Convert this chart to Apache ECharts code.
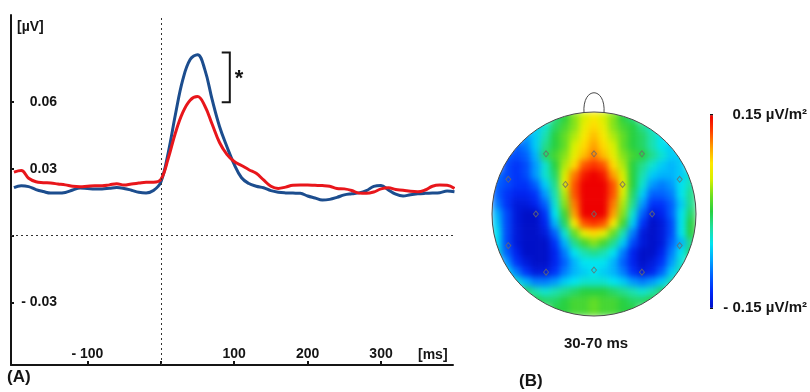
<!DOCTYPE html>
<html>
<head>
<meta charset="utf-8">
<script src="https://cdn.jsdelivr.net/npm/echarts@6/dist/echarts.min.js"></script>
<style>
html, body { margin: 0; padding: 0; background: #fff; }
#wrap { position: relative; width: 810px; height: 392px; }
#topo, #chart { position: absolute; left: 0; top: 0; width: 810px; height: 392px; }
/* soften the electrode grid so it reads like an interpolated scalp map */
#topo { filter: blur(3px); }
</style>
</head>
<body>
<div id="wrap">
  <div id="topo"></div>
  <div id="chart"></div>
</div>
<script>
// (A) ERP waveforms, time in ms, amplitude in µV
const timesMs = [-200, -190, -180, -170, -160, -150, -140, -130, -120, -110, -100, -90, -80, -70, -60, -50, -40, -30, -20, -10,
  0, 10, 20, 30, 40, 50, 60, 70, 80, 90, 100, 110, 120, 130, 140, 150, 160, 170, 180, 190,
  200, 210, 220, 230, 240, 250, 260, 270, 280, 290, 300, 310, 320, 330, 340, 350, 360, 370, 380, 390, 400]
const blueWave = [0.0216, 0.0224, 0.0220, 0.0207, 0.0198, 0.0191, 0.0191, 0.0194, 0.0205, 0.0214, 0.0212, 0.0210, 0.0210, 0.0213, 0.0216, 0.0212, 0.0204, 0.0195, 0.0192, 0.0203,
  0.0240, 0.0370, 0.0545, 0.0700, 0.0790, 0.0812, 0.0745, 0.0610, 0.0490, 0.0400, 0.0320, 0.0260, 0.0234, 0.0222, 0.0215, 0.0202, 0.0195, 0.0192, 0.0191, 0.0190,
  0.0178, 0.0169, 0.0160, 0.0163, 0.0172, 0.0183, 0.0188, 0.0192, 0.0202, 0.0221, 0.0225, 0.0205, 0.0186, 0.0178, 0.0184, 0.0188, 0.0190, 0.0191, 0.0193, 0.0200, 0.0197]
const redWave = [0.0285, 0.0292, 0.0258, 0.0242, 0.0238, 0.0236, 0.0232, 0.0228, 0.0222, 0.0220, 0.0222, 0.0224, 0.0224, 0.0228, 0.0233, 0.0227, 0.0232, 0.0236, 0.0240, 0.0240,
  0.0252, 0.0345, 0.0462, 0.0553, 0.0608, 0.0624, 0.0582, 0.0500, 0.0418, 0.0365, 0.0333, 0.0315, 0.0296, 0.0280, 0.0250, 0.0222, 0.0212, 0.0218, 0.0226, 0.0227,
  0.0227, 0.0226, 0.0225, 0.0222, 0.0212, 0.0210, 0.0203, 0.0191, 0.0190, 0.0196, 0.0210, 0.0215, 0.0207, 0.0204, 0.0199, 0.0197, 0.0205, 0.0222, 0.0227, 0.0226, 0.0212]
const xTicks = [-100, 0, 100, 200, 300]
const xLabels = [-100, 100, 200, 300]
const yTicks = [-0.03, 0, 0.03, 0.06]
const yLabels = [-0.03, 0.03, 0.06]
// significance bracket: [x from, x to, upper peak, lower peak]
const bracket = [[83, 94, 0.0822, 0.0599]]

// (B) topography 30-70 ms, in 0.01 µV/m², rows top->bottom, each row centred on the 21 columns
const topoRows = [
  [-2, 0, 3, 5, 7, 5, 3, 0, -2],
  [-6, -4, -1, 1, 3, 6, 8, 6, 3, 1, 0, -2, -4],
  [-8, -6, -3, 0, 2, 4, 7, 9, 7, 4, 2, 0, -1, -3, -5],
  [-10, -9, -6, -2, 0, 2, 5, 8, 10, 8, 5, 2, 0, -1, -3, -5, -6],
  [-10, -11, -10, -7, -1, 1, 3, 6, 9, 11, 9, 6, 3, 1, 0, -2, -4, -6, -6],
  [-11, -12, -11, -8, -4, 0, 4, 8, 12, 13, 12, 8, 4, 0, -2, -4, -6, -7, -6],
  [-9, -11, -12, -11, -8, -4, -1, 5, 11, 14, 15, 14, 10, 5, 0, -3, -6, -7, -7, -6, -4],
  [-10, -11, -12, -12, -10, -6, -2, 6, 12, 15, 15, 15, 12, 6, 0, -4, -8, -9, -8, -5, -3],
  [-10, -12, -13, -13, -12, -8, -3, 4, 12, 15, 15, 15, 12, 5, -1, -6, -10, -10, -9, -5, -2],
  [-9, -12, -14, -14, -13, -10, -4, 3, 11, 15, 15, 15, 11, 4, -2, -8, -12, -12, -10, -6, -2],
  [-7, -11, -14, -15, -15, -12, -5, 1, 10, 15, 15, 15, 10, 3, -4, -10, -14, -13, -10, -5, -1],
  [-6, -11, -14, -15, -15, -13, -7, -1, 7, 12, 13, 12, 7, 1, -6, -12, -15, -14, -11, -5, 0],
  [-5, -11, -14, -15, -15, -14, -10, -4, 2, 6, 8, 6, 2, -3, -9, -14, -15, -14, -11, -5, 0],
  [-5, -11, -14, -15, -15, -15, -12, -7, -2, 1, 3, 1, -2, -6, -11, -14, -15, -14, -10, -7, -2],
  [-4, -10, -13, -15, -15, -15, -13, -9, -5, -3, -2, -3, -5, -9, -13, -15, -15, -13, -9, -5, -1],
  [-8, -12, -14, -15, -15, -13, -10, -7, -5, -5, -5, -7, -10, -13, -15, -14, -12, -8, -4],
  [-5, -9, -12, -14, -14, -12, -9, -7, -6, -5, -6, -7, -9, -12, -14, -13, -10, -6, -3],
  [-4, -7, -9, -9, -8, -6, -5, -4, -4, -4, -5, -6, -8, -9, -8, -6, -3],
  [-1, -3, -4, -3, -2, -1, 0, 0, 0, -1, -2, -3, -4, -3, -1],
  [0, -1, -1, 0, 1, 1, 2, 1, 1, 0, -1, -1, 0],
  [0, 0, 1, 1, 2, 1, 1, 0, 0]
]
// electrode positions on the unit head circle
const electrodes = [
  [-0.47, 0.59], [0, 0.59], [0.47, 0.59],
  [-0.84, 0.34], [-0.28, 0.29], [0.28, 0.29], [0.84, 0.34],
  [-0.57, 0], [0, 0], [0.57, 0],
  [-0.84, -0.31], [0.84, -0.31],
  [-0.47, -0.57], [0, -0.55], [0.47, -0.57]
]
const scaleTicks = [-15, 0, 15]
const topoColors = ['#0010c8', '#0028f8', '#0060ff', '#00a8ff', '#00e4f0', '#20e0a0', '#28d040',
  '#70e020', '#d8f000', '#ffe800', '#ffa000', '#ff4000', '#ee0000']

const FONT = 'Liberation Sans, Arial, sans-serif'
const INK = '#151515'
const HEAD = { left: 492, top: 112, size: 204 }
const N = 21

const heatData = []
topoRows.forEach((row, r) => {
  const off = (N - row.length) / 2
  row.forEach((v, i) => heatData.push([off + i, r, v]))
})
const cells = Array.from({ length: N }, (_, i) => i)

const rad = HEAD.size / 2
const cx = HEAD.left + rad
const cy = HEAD.top + rad
const label = { fontFamily: FONT, fontWeight: 'bold', fontSize: 14, color: INK }

// scalp map layer (blurred underneath)
const topoChart = echarts.init(document.getElementById('topo'))
topoChart.setOption({
  animation: false,
  grid: { left: HEAD.left, top: HEAD.top, width: HEAD.size, height: HEAD.size },
  xAxis: { type: 'category', data: cells, show: false },
  yAxis: { type: 'category', data: cells, inverse: true, show: false },
  visualMap: { type: 'continuous', min: -15, max: 15, dimension: 2, show: false, inRange: { color: topoColors } },
  series: [{ type: 'heatmap', data: heatData, silent: true, itemStyle: { borderWidth: 0 } }]
})

// everything else
const chart = echarts.init(document.getElementById('chart'))
chart.setOption({
  animation: false,
  textStyle: { fontFamily: FONT },
  grid: [
    { left: 11, top: 15, width: 442, height: 350 },
    { left: HEAD.left, top: HEAD.top, width: HEAD.size, height: HEAD.size },
    { left: 710, top: 115, width: 3, height: 193 }
  ],
  xAxis: [
    {
      gridIndex: 0, type: 'value', min: -204, max: 398,
      name: '[ms]', nameLocation: 'end', nameGap: -35,
      nameTextStyle: Object.assign({}, label, { align: 'left', verticalAlign: 'bottom', padding: [0, 0, 3, 0] }),
      axisLine: { onZero: false, lineStyle: { color: INK, width: 2 } },
      axisTick: { inside: true, length: 4, customValues: xTicks, lineStyle: { color: INK, width: 2 } },
      axisLabel: Object.assign({}, label, {
        inside: true, margin: 4, customValues: xLabels,
        formatter: v => (v < 0 ? '- ' + (-v) : String(v))
      }),
      splitLine: { show: false }
    },
    { gridIndex: 1, type: 'value', min: -1, max: 1, show: false },
    { gridIndex: 2, type: 'value', min: 0, max: 1, show: false }
  ],
  yAxis: [
    {
      gridIndex: 0, type: 'value', min: -0.058, max: 0.099,
      name: '[µV]', nameLocation: 'end', nameGap: -19,
      nameTextStyle: Object.assign({}, label, { align: 'left', verticalAlign: 'bottom', padding: [0, 0, 0, 6] }),
      axisLine: { onZero: false, lineStyle: { color: INK, width: 2 } },
      axisTick: { inside: true, length: 3, customValues: yTicks, lineStyle: { color: INK, width: 2 } },
      axisLabel: Object.assign({}, label, {
        inside: true, margin: 46, align: 'right', customValues: yLabels,
        formatter: v => (v < 0 ? '- ' + (-v).toFixed(2) : v.toFixed(2))
      }),
      splitLine: { show: false }
    },
    { gridIndex: 1, type: 'value', min: -1, max: 1, show: false },
    {
      gridIndex: 2, type: 'value', min: -15, max: 15, position: 'right',
      axisLine: { show: false },
      axisTick: { show: true, length: 3, customValues: scaleTicks, lineStyle: { color: INK, width: 2 } },
      axisLabel: Object.assign({}, label, {
        fontSize: 15, margin: 95, align: 'right', customValues: [-15, 15],
        formatter: v => (v < 0 ? '- 0.15 µV/m²' : '0.15 µV/m²')
      }),
      splitLine: { show: false }
    }
  ],
  visualMap: {
    type: 'continuous', seriesIndex: [], dimension: 2,
    min: -15, max: 15, calculable: false, show: true,
    left: 710, top: 115, itemWidth: 3, itemHeight: 193, padding: 0, text: null,
    inRange: { color: topoColors }
  },
  series: [
    {
      name: 'blue', type: 'line', xAxisIndex: 0, yAxisIndex: 0,
      data: timesMs.map((t, i) => [t, blueWave[i]]),
      showSymbol: false, smooth: 0.4,
      lineStyle: { color: '#1c4d8e', width: 3 },
      markLine: {
        silent: true, symbol: ['none', 'none'], label: { show: false },
        lineStyle: { color: '#333', width: 1, type: [2, 3] },
        data: [{ xAxis: 0 }, { yAxis: 0 }]
      }
    },
    {
      name: 'red', type: 'line', xAxisIndex: 0, yAxisIndex: 0,
      data: timesMs.map((t, i) => [t, redWave[i]]),
      showSymbol: false, smooth: 0.4,
      lineStyle: { color: '#e8161b', width: 3 }
    },
    {
      type: 'custom', xAxisIndex: 0, yAxisIndex: 0,
      data: bracket,
      encode: { x: [0, 1], y: [2, 3] },
      renderItem: (params, api) => {
        const a = api.coord([api.value(0), api.value(2)])
        const b = api.coord([api.value(1), api.value(2)])
        const c = api.coord([api.value(1), api.value(3)])
        const d = api.coord([api.value(0), api.value(3)])
        return {
          type: 'group',
          children: [
            { type: 'polyline', shape: { points: [a, b, c, d] }, style: { stroke: INK, lineWidth: 2, fill: null } },
            {
              type: 'text',
              style: {
                text: '*', x: b[0] + 5, y: (b[1] + c[1]) / 2 + 2,
                font: 'bold 22px ' + FONT, fill: INK, align: 'left', verticalAlign: 'middle'
              }
            }
          ]
        }
      }
    },
    {
      type: 'scatter', xAxisIndex: 1, yAxisIndex: 1,
      data: electrodes, symbol: 'diamond', symbolSize: [5, 6], silent: true,
      itemStyle: { color: 'rgba(0,0,0,0)', borderColor: '#6a6a6a', borderWidth: 1 },
      z: 5
    }
  ],
  graphic: [
    {
      type: 'ring', z: 3, silent: true,
      shape: { cx: cx, cy: cy, r0: rad, r: rad * 1.62 },
      clipPath: { type: 'rect', shape: { x: HEAD.left - 10, y: HEAD.top - 10, width: HEAD.size + 20, height: HEAD.size + 20 } },
      style: { fill: '#fff' }
    },
    {
      type: 'circle', z: 4, silent: true,
      shape: { cx: cx, cy: cy, r: rad },
      style: { fill: null, stroke: '#4a4a4a', lineWidth: 1 }
    },
    {
      type: 'bezierCurve', z: 4, silent: true,
      shape: { x1: cx - 10, y1: HEAD.top + 1, x2: cx + 10, y2: HEAD.top + 1, cpx1: cx - 12, cpy1: HEAD.top - 26, cpx2: cx + 12, cpy2: HEAD.top - 26 },
      style: { fill: null, stroke: '#4a4a4a', lineWidth: 1 }
    },
    {
      type: 'text', z: 4,
      style: { text: '30-70 ms', x: cx + 2, y: 344, font: 'bold 15px ' + FONT, fill: INK, align: 'center', verticalAlign: 'middle' }
    },
    {
      type: 'text', z: 4,
      style: { text: '(A)', x: 7, y: 377, font: 'bold 17px ' + FONT, fill: INK, align: 'left', verticalAlign: 'middle' }
    },
    {
      type: 'text', z: 4,
      style: { text: '(B)', x: 519, y: 381, font: 'bold 17px ' + FONT, fill: INK, align: 'left', verticalAlign: 'middle' }
    }
  ]
})
</script>
</body>
</html>
